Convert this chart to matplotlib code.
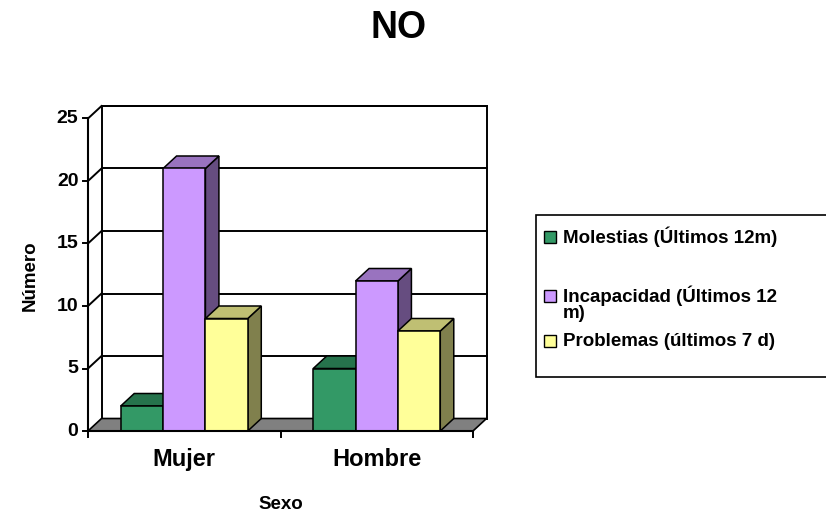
import matplotlib
matplotlib.use("Agg")
import matplotlib.pyplot as plt
from matplotlib.patches import Polygon, Rectangle
import numpy as np

plt.rcParams['font.family'] = ['Liberation Sans', 'DejaVu Sans']
plt.rcParams['font.weight'] = 'bold'

categories = ['Mujer', 'Hombre']
series_names = ['Molestias (Últimos 12m)', 'Incapacidad (Últimos 12\nm)', 'Problemas (últimos 7 d)']
molestias = [2, 5]
incapacidad = [21, 12]
problemas = [9, 8]
series_values = [molestias, incapacidad, problemas]
y_ticks = [0, 5, 10, 15, 20, 25]

front_colors = ['#339966', '#CC99FF', '#FFFF99']
top_colors = ['#26734C', '#9973BF', '#BFBF73']
side_colors = ['#1A4D33', '#664D80', '#80804D']

W, H = 826, 511
fig = plt.figure(figsize=(W / 100, H / 100), dpi=100)
ax = fig.add_axes([88 / W, (H - 431) / H, (473 - 88) / W, (431 - 118.5) / H])
ax.set_xlim(-0.5, 1.5)
ax.set_ylim(0, 25)
ax.axis('off')

# depth of the 3D box in pixels, converted to data units
DEPTH = np.array([13.5, 12.5])
o = ax.transData.transform((0, 0))
ddx, ddy = ax.transData.inverted().transform(o + DEPTH)
x0, x1 = -0.5, 1.5
ymax = y_ticks[-1]
kw = dict(clip_on=False)

# back wall
ax.add_patch(Rectangle((x0 + ddx, ddy), x1 - x0, ymax, facecolor='white',
                       edgecolor='black', lw=1.4, zorder=1, **kw))
for v in y_ticks[1:]:
    ax.plot([x0 + ddx, x1 + ddx], [v + ddy, v + ddy], color='black', lw=1.4, zorder=1, **kw)
    ax.plot([x0, x0 + ddx], [v, v + ddy], color='black', lw=1.4, zorder=1, **kw)

# floor
ax.add_patch(Polygon([(x0, 0), (x1, 0), (x1 + ddx, ddy), (x0 + ddx, ddy)],
                     closed=True, facecolor='#808080', edgecolor='black', lw=1.2, zorder=2, **kw))

# bars
bw = 0.22
for ci, cat in enumerate(categories):
    for si, vals in enumerate(series_values):
        h = vals[ci]
        left = ci + (si - 1) * bw - bw / 2
        right = left + bw
        side = [(right, 0), (right + ddx, ddy), (right + ddx, h + ddy), (right, h)]
        top = [(left, h), (right, h), (right + ddx, h + ddy), (left + ddx, h + ddy)]
        ax.add_patch(Polygon(side, closed=True, facecolor=side_colors[si],
                             edgecolor='black', lw=1.1, zorder=3, **kw))
        ax.add_patch(Polygon(top, closed=True, facecolor=top_colors[si],
                             edgecolor='black', lw=1.1, zorder=3, **kw))
        ax.add_patch(Rectangle((left, 0), bw, h, facecolor=front_colors[si],
                               edgecolor='black', lw=1.1, zorder=3, **kw))

# axes lines and ticks
ax.plot([x0, x1], [0, 0], color='black', lw=1.5, zorder=4, **kw)
ax.plot([x0, x0], [0, ymax], color='black', lw=1.5, zorder=4, **kw)
tick_len_y = ax.transData.inverted().transform(o + np.array([5, 0]))[0]
tick_len_x = ax.transData.inverted().transform(o + np.array([0, 6]))[1]
for v in y_ticks:
    ax.plot([x0 - tick_len_y, x0], [v, v], color='black', lw=1.4, zorder=4, **kw)
    ax.text(x0 - tick_len_y * 1.9, v, str(v), ha='right', va='center',
            fontsize=14, fontweight='bold')
for xb in [x0, 0.5, x1]:
    ax.plot([xb, xb], [0, -tick_len_x], color='black', lw=1.4, zorder=4, **kw)
for ci, cat in enumerate(categories):
    ax.text(ci, -2.3, cat, ha='center', va='center', fontsize=17, fontweight='bold')

ax.text(0.5, -5.85, 'Sexo', ha='center', va='center', fontsize=13.5, fontweight='bold')
fig.text(30 / W, 1 - 276 / H, 'Número', rotation=90, ha='center', va='center',
         fontsize=13.5, fontweight='bold')
fig.text(398.5 / W, 1 - 28 / H, 'NO', ha='center', va='center', fontsize=27, fontweight='bold')

# legend box
lx0, ly0, lx1, ly1 = 536, 215, 828, 377
fig.patches.append(Rectangle((lx0 / W, 1 - ly1 / H), (lx1 - lx0) / W, (ly1 - ly0) / H,
                             transform=fig.transFigure, facecolor='white',
                             edgecolor='black', lw=1.2, figure=fig))
legend_rows = [237, 296, 341]
for si, name in enumerate(series_names):
    yc = legend_rows[si]
    fig.patches.append(Rectangle((544 / W, 1 - (yc + 6) / H), 12 / W, 12 / H,
                                 transform=fig.transFigure, facecolor=front_colors[si],
                                 edgecolor='black', lw=1.0, figure=fig))
    lines = name.split('\n')
    for li, line in enumerate(lines):
        fig.text(563 / W, 1 - (yc + 18 * li) / H, line, ha='left', va='center',
                 fontsize=13.5, fontweight='bold')

fig.savefig('out.png', dpi=100, facecolor='white')
